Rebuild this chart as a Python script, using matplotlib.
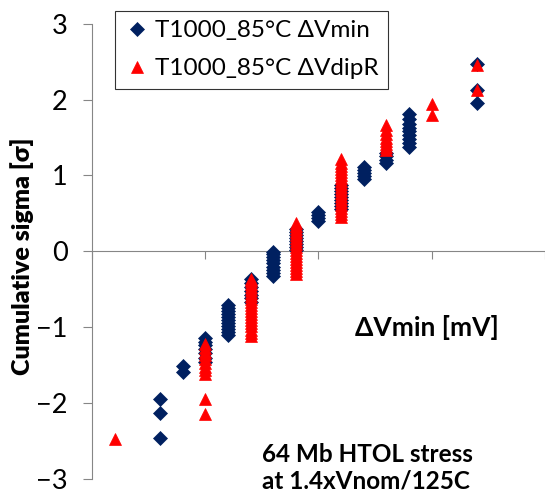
import matplotlib
matplotlib.use('Agg')
import matplotlib.pyplot as plt

# delta Vmin [mV] columns and the cumulative sigma of the points stacked in each
vmin_x = [3, 4, 5, 6, 7, 8, 9, 10, 11, 12, 13, 14, 17]
vmin_sigma = [
    [-2.46, -2.13, -1.94],
    [-1.59, -1.51],
    [-1.46, -1.40, -1.34, -1.29, -1.24, -1.19, -1.14],
    [-1.10, -1.06, -1.02, -0.98, -0.94, -0.90, -0.86, -0.82, -0.78, -0.74, -0.71],
    [-0.67, -0.62, -0.57, -0.52, -0.47, -0.42, -0.37],
    [-0.33, -0.28, -0.24, -0.20, -0.16, -0.12, -0.08, -0.04, -0.01],
    [0.02, 0.06, 0.10, 0.14, 0.18, 0.22, 0.26, 0.30],
    [0.40, 0.44, 0.48, 0.52],
    [0.56, 0.60, 0.64, 0.68, 0.72, 0.76, 0.80, 0.84, 0.88],
    [0.95, 0.99, 1.03, 1.07, 1.11],
    [1.17, 1.21, 1.25, 1.30],
    [1.38, 1.43, 1.48, 1.53, 1.58, 1.63, 1.68, 1.74, 1.81],
    [1.95, 2.13, 2.47],
]

dipr_x = [1, 5, 7, 9, 11, 13, 15, 17]
dipr_sigma = [
    [-2.47],
    [-2.14, -1.95, -1.62, -1.57, -1.52, -1.47, -1.42, -1.37, -1.32, -1.27, -1.22],
    [-1.11, -1.07, -1.03, -0.99, -0.95, -0.91, -0.87, -0.83, -0.79, -0.75,
     -0.71, -0.67, -0.63, -0.59, -0.55, -0.51, -0.47, -0.43, -0.39, -0.36],
    [-0.30, -0.26, -0.22, -0.18, -0.14, -0.10, -0.06, -0.02, 0.02, 0.06,
     0.10, 0.14, 0.18, 0.22, 0.26, 0.30, 0.34, 0.38],
    [0.45, 0.49, 0.53, 0.57, 0.61, 0.65, 0.69, 0.73, 0.77, 0.81,
     0.85, 0.89, 0.93, 0.97, 1.01, 1.05, 1.09, 1.13, 1.17, 1.22],
    [1.33, 1.37, 1.41, 1.45, 1.50, 1.55, 1.60, 1.67],
    [1.80, 1.94],
    [2.12, 2.45],
]

label_vmin = 'T1000_85°C ΔVmin'
label_dipr = 'T1000_85°C ΔVdipR'
y_ticks = [-3, -2, -1, 0, 1, 2, 3]
x_ticks = [0, 5, 10, 15, 20]


def flatten(xs, groups):
    px, py = [], []
    for x, g in zip(xs, groups):
        for y in g:
            px.append(x)
            py.append(y)
    return px, py


def main():
    plt.rcParams['font.family'] = ['Lato', 'DejaVu Sans']
    fig = plt.figure(figsize=(5.45, 5.0), dpi=100)
    ax = fig.add_axes([0.1688, 0.042, 0.8312, 0.9106])

    bx, by = flatten(vmin_x, vmin_sigma)
    rx, ry = flatten(dipr_x, dipr_sigma)
    ax.plot(bx, by, 'D', color='#002060', markersize=6.8, markeredgewidth=0.5,
            linestyle='none', label=label_vmin, zorder=3)
    ax.plot(rx, ry, '^', color='#ff0000', markersize=9, markeredgewidth=0.5,
            linestyle='none', label=label_dipr, zorder=4)

    ax.set_xlim(0, 20)
    ax.set_ylim(-3, 3)
    ax.set_yticks(y_ticks)
    ax.set_xticks(x_ticks)
    ax.set_xticklabels([])

    grey = '#868686'
    ax.spines['top'].set_visible(False)
    ax.spines['right'].set_visible(False)
    ax.spines['bottom'].set_position(('data', 0))
    ax.spines['left'].set_color(grey)
    ax.spines['bottom'].set_color(grey)
    ax.tick_params(axis='y', direction='out', length=6.5, color=grey,
                   labelsize=19.5, pad=11)
    ax.tick_params(axis='x', direction='out', length=6, color=grey)

    ax.set_ylabel('Cumulative sigma [σ]', fontsize=18, fontweight='heavy', labelpad=4)
    ax.yaxis.set_label_coords(-0.128, 0.49)

    leg = fig.legend(loc='upper left', bbox_to_anchor=(0.211, 0.979),
                     fontsize=17.5, frameon=True, fancybox=False, borderaxespad=0,
                     handletextpad=0.25, handlelength=1.0, labelspacing=0.7,
                     borderpad=0.4)
    leg.get_frame().set_edgecolor('black')
    leg.get_frame().set_linewidth(0.8)

    fig.text(355 / 545, 1 - 328 / 500, 'ΔVmin [mV]', fontsize=19, fontweight='bold',
             va='center', ha='left')
    fig.text(262 / 545, 1 - 455 / 500, '64 Mb HTOL stress', fontsize=17.5,
             fontweight='bold', va='center', ha='left')
    fig.text(262 / 545, 1 - 481 / 500, 'at 1.4xVnom/125C', fontsize=17.5,
             fontweight='bold', va='center', ha='left')

    plt.savefig('out.png', dpi=100)


if __name__ == '__main__':
    main()
